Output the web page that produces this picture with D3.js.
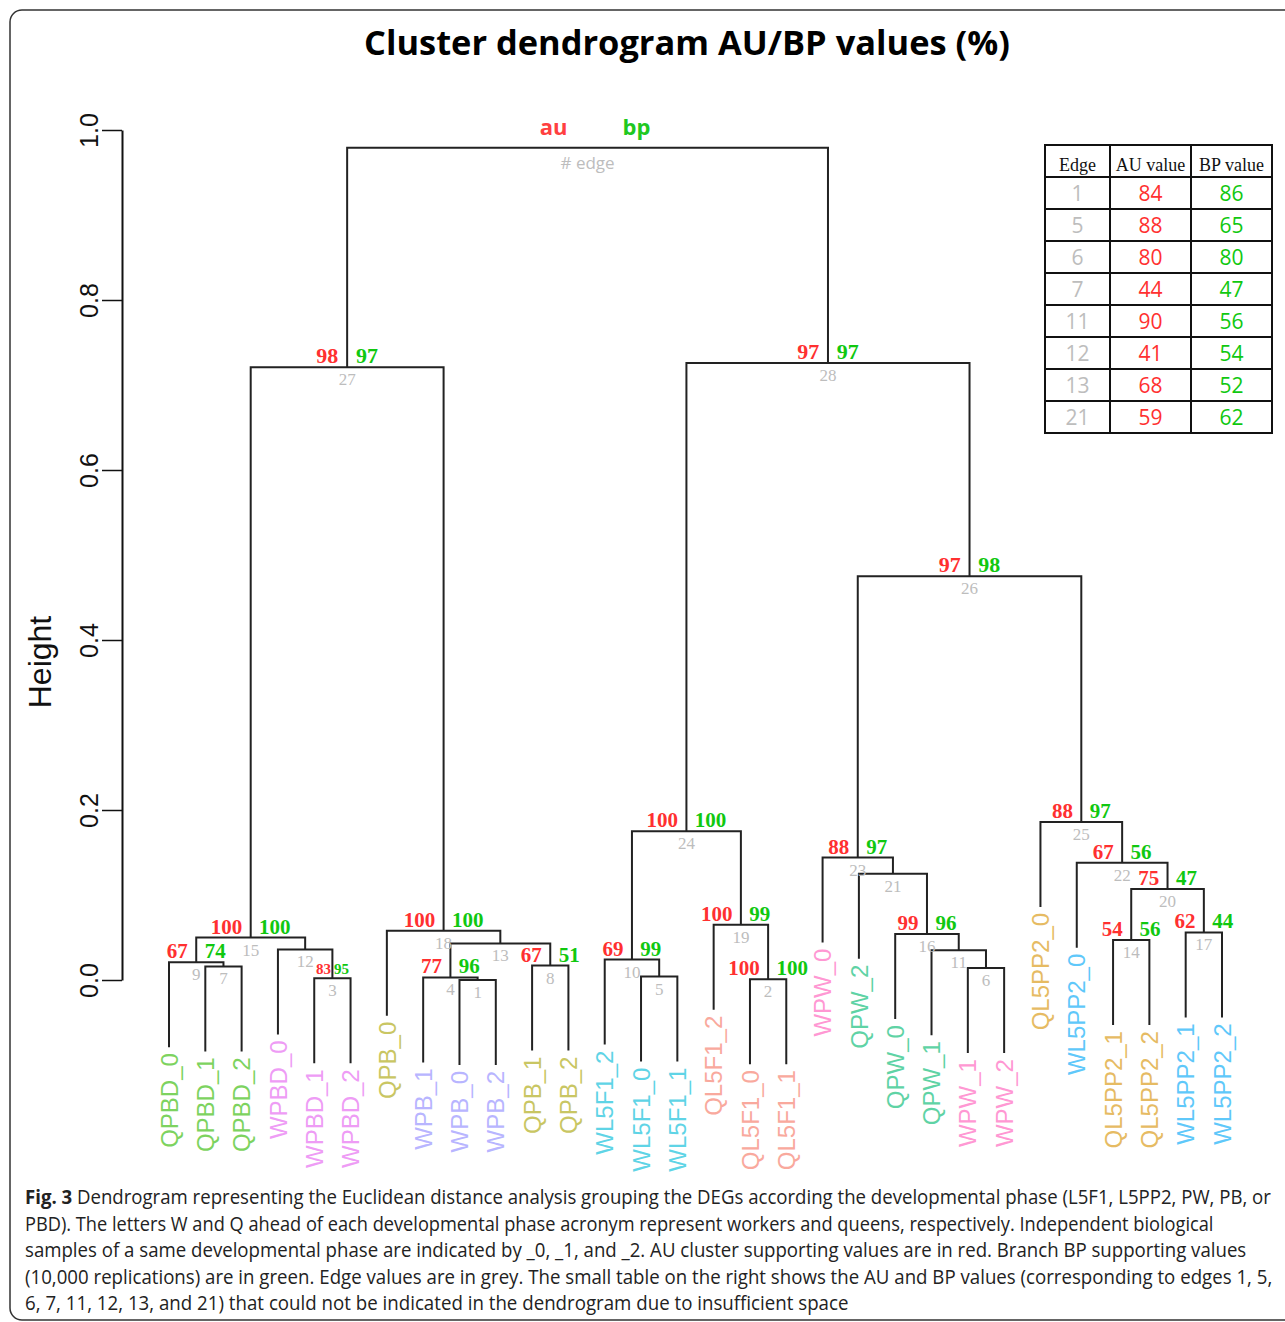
<!DOCTYPE html>
<html>
<head>
<meta charset="utf-8">
<script src="https://cdn.jsdelivr.net/npm/d3@7"></script>
<style>
  body { margin: 0; background: #fff; }
  svg { display: block; }
</style>
</head>
<body>
<svg id="chart" width="1285" height="1322"></svg>
<script>
// leaves, left to right as they hang in the tree
const leafLabels = ['QPBD_0', 'QPBD_1', 'QPBD_2', 'WPBD_0', 'WPBD_1', 'WPBD_2',
  'QPB_0', 'WPB_1', 'WPB_0', 'WPB_2', 'QPB_1', 'QPB_2',
  'WL5F1_2', 'WL5F1_0', 'WL5F1_1', 'QL5F1_2', 'QL5F1_0', 'QL5F1_1',
  'WPW_0', 'QPW_2', 'QPW_0', 'QPW_1', 'WPW_1', 'WPW_2',
  'QL5PP2_0', 'WL5PP2_0', 'QL5PP2_1', 'QL5PP2_2', 'WL5PP2_1', 'WL5PP2_2'];

const groups = ['QL5F1', 'QL5PP2', 'QPB', 'QPBD', 'QPW', 'WL5F1', 'WL5PP2', 'WPB', 'WPBD', 'WPW'];
const groupColors = ['#f9a99d', '#e6bb63', '#c9c663', '#7dd35f', '#5fd3a5',
  '#5fd4e6', '#5fc8fa', '#b8b5ff', '#ee9cf5', '#ff98d3'];

// edge 1..29 : strings are leaves, numbers are earlier edges
const merges = [
  ['WPB_0', 'WPB_2'],        // 1
  ['QL5F1_0', 'QL5F1_1'],    // 2
  ['WPBD_1', 'WPBD_2'],      // 3
  ['WPB_1', 1],              // 4
  ['WL5F1_0', 'WL5F1_1'],    // 5
  ['WPW_1', 'WPW_2'],        // 6
  ['QPBD_1', 'QPBD_2'],      // 7
  ['QPB_1', 'QPB_2'],        // 8
  ['QPBD_0', 7],             // 9
  ['WL5F1_2', 5],            // 10
  ['QPW_1', 6],              // 11
  ['WPBD_0', 3],             // 12
  [4, 8],                    // 13
  ['QL5PP2_1', 'QL5PP2_2'],  // 14
  [9, 12],                   // 15
  ['QPW_0', 11],             // 16
  ['WL5PP2_1', 'WL5PP2_2'],  // 17
  ['QPB_0', 13],             // 18
  ['QL5F1_2', 2],            // 19
  [14, 17],                  // 20
  ['QPW_2', 16],             // 21
  ['WL5PP2_0', 20],          // 22
  ['WPW_0', 21],             // 23
  [10, 19],                  // 24
  ['QL5PP2_0', 22],          // 25
  [23, 25],                  // 26
  [15, 18],                  // 27
  [24, 26],                  // 28
  [27, 28]                   // 29
];
const heights = [0.000, 0.001, 0.002, 0.003, 0.004, 0.014, 0.016, 0.017, 0.021, 0.024,
  0.035, 0.036, 0.043, 0.047, 0.050, 0.054, 0.056, 0.058, 0.065, 0.107,
  0.125, 0.138, 0.144, 0.175, 0.186, 0.475, 0.721, 0.726, 0.979];
const auValues = [84, 100, 83, 77, 88, 80, 44, 67, 67, 69, 90, 41, 68, 54, 100,
  99, 62, 100, 100, 75, 59, 67, 88, 100, 88, 97, 98, 97, null];
const bpValues = [86, 100, 95, 96, 65, 80, 47, 51, 74, 99, 56, 54, 52, 56, 100,
  96, 44, 100, 99, 47, 62, 56, 97, 100, 97, 98, 97, 97, null];
// edges whose values go in the side table instead of the tree
const tableEdges = [1, 5, 6, 7, 11, 12, 13, 21];
const yTicks = [0, 0.2, 0.4, 0.6, 0.8, 1.0];
const hang = 0.1;

const captionLines = [
  'Dendrogram representing the Euclidean distance analysis grouping the DEGs according the developmental phase (L5F1, L5PP2, PW, PB, or',
  'PBD). The letters W and Q ahead of each developmental phase acronym represent workers and queens, respectively. Independent biological',
  'samples of a same developmental phase are indicated by _0, _1, and _2. AU cluster supporting values are in red. Branch BP supporting values',
  '(10,000 replications) are in green. Edge values are in grey. The small table on the right shows the AU and BP values (corresponding to edges 1, 5,',
  '6, 7, 11, 12, 13, and 21) that could not be indicated in the dendrogram due to insufficient space'
];
const captionEnds = [1272, 1214, 1247, 1273, 849];

const RED = '#ff3030', GREEN = '#10c810', GREY = '#bdbdbd';
const serif = '"Liberation Serif", "Times New Roman", serif';
const sans = '"Liberation Sans", Arial, sans-serif';

const svg = d3.select('#chart');

// squeeze a text element horizontally so it spans a given width
function fit(sel, x0, y0, target) {
  const w = sel.node().getBBox().width;
  sel.attr('transform', 'translate(' + x0 + ',' + y0 + ') scale(' + (target / w) + ',1)');
}

// frame
svg.append('rect')
    .attr('x', 10).attr('y', 10)
    .attr('width', 1300).attr('height', 1310)
    .attr('rx', 12)
    .attr('fill', 'none')
    .attr('stroke', '#333')
    .attr('stroke-width', 1.5);

// title
const title = svg.append('text')
    .attr('font-family', '"Open Sans", sans-serif')
    .attr('font-weight', 'bold')
    .attr('font-size', 34)
    .attr('fill', '#000')
    .text('Cluster dendrogram AU/BP values (%)');
fit(title, 364, 55, 646);

const x = d3.scaleLinear().domain([0, leafLabels.length - 1]).range([169, 1222]);
const y = d3.scaleLinear().domain([0, 1]).range([980, 130]);
const color = d3.scaleOrdinal().domain(groups).range(groupColors);

// x position of every node
const leafX = new Map(leafLabels.map((d, i) => [d, x(i)]));
const nodeX = [];
function childX(c) { return typeof c === 'string' ? leafX.get(c) : nodeX[c - 1]; }
merges.forEach((m, i) => { nodeX[i] = (childX(m[0]) + childX(m[1])) / 2; });

const g = svg.append('g');

// branches
g.selectAll('path.branch')
  .data(merges)
  .join('path')
    .attr('class', 'branch')
    .attr('fill', 'none')
    .attr('stroke', '#222')
    .attr('stroke-width', 2)
    .attr('d', (m, i) => {
      const h = heights[i];
      const [a, b] = m.map((c) => ({
        x: childX(c),
        y: typeof c === 'string' ? y(h - hang) : y(heights[c - 1])
      }));
      return 'M' + a.x + ',' + a.y + 'V' + y(h) + 'H' + b.x + 'V' + b.y;
    });

// leaf labels
const leafBottom = new Map();
merges.forEach((m, i) => m.forEach((c) => {
  if (typeof c === 'string') leafBottom.set(c, y(heights[i] - hang));
}));
g.selectAll('text.leaf')
  .data(leafLabels)
  .join('text')
    .attr('class', 'leaf')
    .attr('transform', (d) => 'translate(' + leafX.get(d) + ',' + (leafBottom.get(d) + 6) + ') rotate(-90)')
    .attr('dy', '0.36em')
    .attr('text-anchor', 'end')
    .attr('font-family', sans)
    .attr('font-size', 24)
    .attr('fill', (d) => color(d.split('_')[0]))
    .text((d) => d);

// au / bp / edge numbers
const nodes = merges.map((m, i) => ({ edge: i + 1, x: nodeX[i], h: heights[i], au: auValues[i], bp: bpValues[i] }));
const inner = nodes.filter((d) => d.au !== null);
const shown = inner.filter((d) => tableEdges.indexOf(d.edge) < 0);
const valSize = (d) => d.edge === 3 ? 15 : (d.edge >= 26 ? 22 : 21);
const valGap = (d) => d.edge === 3 ? 1.5 : valSize(d) * 0.4;

g.selectAll('text.au')
  .data(shown)
  .join('text')
    .attr('x', (d) => d.x - valGap(d))
    .attr('y', (d) => y(d.h) - 4)
    .attr('text-anchor', 'end')
    .attr('font-family', serif)
    .attr('font-weight', 'bold')
    .attr('font-size', valSize)
    .attr('fill', RED)
    .text((d) => d.au);

g.selectAll('text.bp')
  .data(shown)
  .join('text')
    .attr('x', (d) => d.x + valGap(d))
    .attr('y', (d) => y(d.h) - 4)
    .attr('text-anchor', 'start')
    .attr('font-family', serif)
    .attr('font-weight', 'bold')
    .attr('font-size', valSize)
    .attr('fill', GREEN)
    .text((d) => d.bp);

g.selectAll('text.edge')
  .data(inner)
  .join('text')
    .attr('x', (d) => d.x)
    .attr('y', (d) => y(d.h) + 18)
    .attr('text-anchor', 'middle')
    .attr('font-family', serif)
    .attr('font-size', 17)
    .attr('fill', GREY)
    .text((d) => d.edge);

// legend at the root
const root = nodes[nodes.length - 1];
g.append('text')
    .attr('x', root.x - 20).attr('y', y(root.h) - 13)
    .attr('text-anchor', 'end')
    .attr('font-family', '"Open Sans", sans-serif')
    .attr('font-weight', 'bold')
    .attr('font-size', 22)
    .attr('fill', '#ff4040')
    .text('au');
g.append('text')
    .attr('x', root.x + 35).attr('y', y(root.h) - 13)
    .attr('font-family', '"Open Sans", sans-serif')
    .attr('font-weight', 'bold')
    .attr('font-size', 22)
    .attr('fill', '#20c820')
    .text('bp');
g.append('text')
    .attr('x', root.x).attr('y', y(root.h) + 21)
    .attr('text-anchor', 'middle')
    .attr('font-family', '"Open Sans", sans-serif')
    .attr('font-size', 17)
    .attr('fill', GREY)
    .text('# edge');

// y axis
const yAxis = svg.append('g')
    .attr('transform', 'translate(122,0)')
    .call(d3.axisLeft(y).tickValues(yTicks).tickFormat(d3.format('.1f')).tickSize(20).tickSizeOuter(0));
yAxis.select('.domain').attr('stroke', '#111').attr('stroke-width', 2);
yAxis.selectAll('.tick line').attr('stroke', '#111').attr('stroke-width', 1.5);
yAxis.selectAll('.tick text')
    .attr('x', null).attr('dy', null)
    .attr('transform', 'translate(-24,0) rotate(-90)')
    .attr('text-anchor', 'middle')
    .attr('font-family', sans)
    .attr('font-size', 25)
    .attr('fill', '#111');

svg.append('text')
    .attr('transform', 'translate(51,662) rotate(-90)')
    .attr('text-anchor', 'middle')
    .attr('font-family', sans)
    .attr('font-size', 32)
    .attr('fill', '#111')
    .text('Height');

// side table
const colX = [1045, 1110, 1191, 1272];
const rowTop = 145, headH = 32, rowH = 32;
const table = svg.append('g');
const rows = tableEdges.map((e) => ({ edge: e, au: auValues[e - 1], bp: bpValues[e - 1] }));
const bottom = rowTop + headH + rows.length * rowH;

table.append('rect')
    .attr('x', colX[0]).attr('y', rowTop)
    .attr('width', colX[3] - colX[0]).attr('height', bottom - rowTop)
    .attr('fill', 'none').attr('stroke', '#111').attr('stroke-width', 2);
table.selectAll('line.h')
  .data(d3.range(rows.length))
  .join('line')
    .attr('x1', colX[0]).attr('x2', colX[3])
    .attr('y1', (i) => rowTop + headH + i * rowH)
    .attr('y2', (i) => rowTop + headH + i * rowH)
    .attr('stroke', '#111').attr('stroke-width', 2);
table.selectAll('line.v')
  .data([colX[1], colX[2]])
  .join('line')
    .attr('x1', (d) => d).attr('x2', (d) => d)
    .attr('y1', rowTop).attr('y2', bottom)
    .attr('stroke', '#111').attr('stroke-width', 2);

const colMid = [0, 1, 2].map((i) => (colX[i] + colX[i + 1]) / 2);
table.selectAll('text.head')
  .data(['Edge', 'AU value', 'BP value'])
  .join('text')
    .attr('x', (d, i) => colMid[i])
    .attr('y', rowTop + headH - 6)
    .attr('text-anchor', 'middle')
    .attr('font-family', serif)
    .attr('font-size', 18)
    .attr('fill', '#111')
    .text((d) => d);

const cellKeys = [['edge', GREY], ['au', RED], ['bp', GREEN]];
rows.forEach((r, ri) => {
  cellKeys.forEach(([k, c], ci) => {
    table.append('text')
        .attr('x', colMid[ci])
        .attr('y', rowTop + headH + ri * rowH + 24)
        .attr('text-anchor', 'middle')
        .attr('font-family', '"Open Sans", sans-serif')
        .attr('font-size', 21)
        .attr('fill', c)
        .text(r[k]);
  });
});

// caption
captionLines.forEach((line, i) => {
  const t = svg.append('text')
      .attr('font-family', '"Open Sans", sans-serif')
      .attr('font-size', 19.5)
      .attr('fill', '#222');
  if (i === 0) {
    t.append('tspan').attr('font-weight', 'bold').text('Fig. 3');
    t.append('tspan').text(' ' + line);
  } else {
    t.text(line);
  }
  fit(t, 25, 1204 + i * 26.5, captionEnds[i] - 25);
});
</script>
</body>
</html>
